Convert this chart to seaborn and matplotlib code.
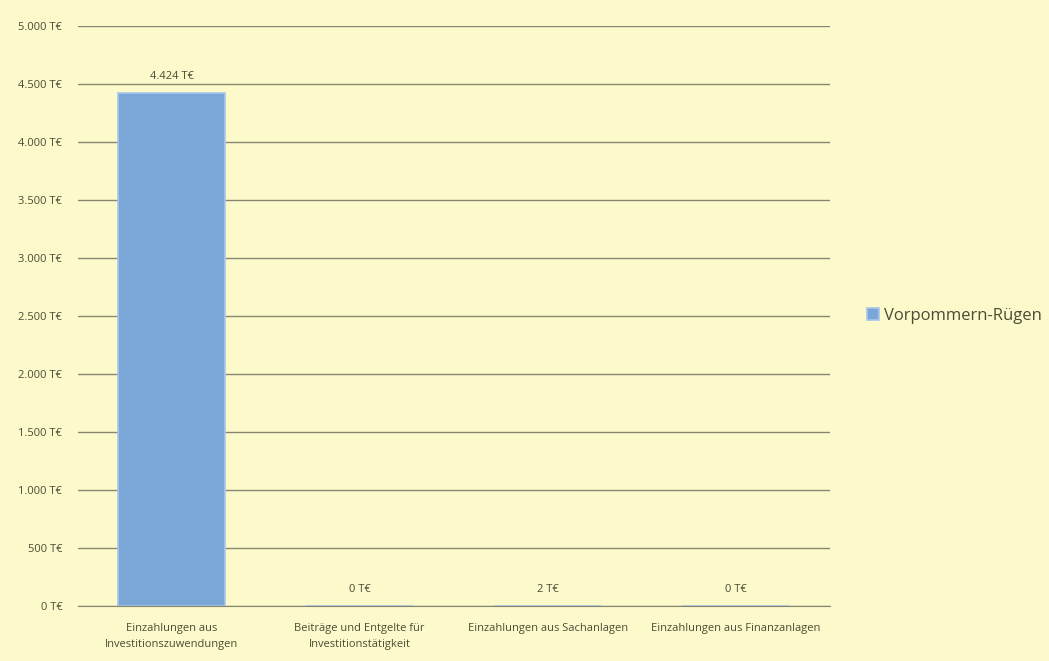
import numpy as np
import pandas as pd
import seaborn as sns
import matplotlib.pyplot as plt
from matplotlib.ticker import FuncFormatter

# chart values
kategorien = ['Einzahlungen aus\nInvestitionszuwendungen',
              'Beiträge und Entgelte für\nInvestitionstätigkeit',
              'Einzahlungen aus Sachanlagen',
              'Einzahlungen aus Finanzanlagen']
werte = [4424, 0, 2, 0]
serie = 'Vorpommern-Rügen'

bg = '#fcfacb'
txt = '#4d4b35'

sns.set_style('white')
plt.rcParams['font.family'] = ['Open Sans', 'DejaVu Sans']

df = pd.DataFrame({'Kategorie': kategorien, 'Wert': werte, 'Serie': serie})

fig = plt.figure(figsize=(10.49, 6.61), dpi=100, facecolor=bg)
ax = fig.add_axes([0.074, 0.083, 0.717, 0.878])
ax.set_facecolor(bg)

sns.barplot(data=df, x='Kategorie', y='Wert', hue='Serie', ax=ax,
            palette=['#7aa6d8'], edgecolor='#a9c6e8', linewidth=1.2,
            width=0.57, saturation=1)

def tfmt(v, pos=None):
    return '{:,.0f} T€'.format(v).replace(',', '.')

ax.set_ylim(0, 5000)
ax.set_yticks(np.arange(0, 5001, 500))
ax.yaxis.set_major_formatter(FuncFormatter(tfmt))
ax.grid(axis='y', color='#878670', linewidth=1)
ax.set_axisbelow(True)
ax.tick_params(axis='y', length=8, color='#878670', labelsize=8, labelcolor=txt, pad=3)
ax.tick_params(axis='x', length=0, labelsize=8, labelcolor=txt, pad=12)
for lab in ax.get_xticklabels():
    lab.set_linespacing(1.6)
for s in ['top', 'right', 'left']:
    ax.spines[s].set_visible(False)
ax.spines['bottom'].set_color('#878670')
ax.set_xlabel('')
ax.set_ylabel('')

for c in ax.containers:
    ax.bar_label(c, labels=[tfmt(v) for v in werte], padding=8,
                 fontsize=8, color=txt)

leg = ax.legend(loc='center left', bbox_to_anchor=(1.03, 0.5), frameon=False,
                fontsize=12, handlelength=0.7, handleheight=0.7,
                handletextpad=0.3, labelcolor=txt)

fig.savefig('out.png', dpi=100, facecolor=bg)
